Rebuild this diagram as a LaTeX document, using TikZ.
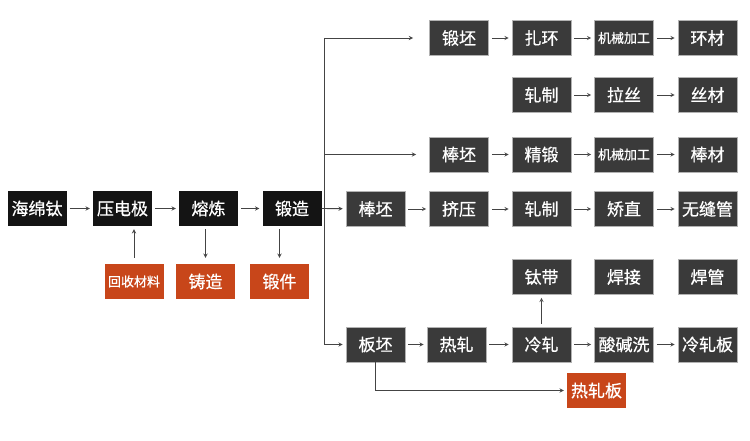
\documentclass[tikz,border=0pt]{standalone}
\usepackage{fontspec}
\newfontfamily\cjk[FakeBold=0.6]{Noto Sans CJK SC}
\usepackage{tikz}
\usetikzlibrary{arrows}
\definecolor{blk}{HTML}{141414}
\definecolor{gry}{HTML}{3A3A3A}
\definecolor{org}{HTML}{C8461A}
\definecolor{lne}{HTML}{444444}
\tikzset{
  box/.style={minimum width=59pt, minimum height=35pt, inner sep=0pt, text=white,
    font=\cjk\fontsize{17}{19}\selectfont},
  bbox/.style={box, fill=blk},
  gbox/.style={box, fill=gry, draw=gray!60, line width=0.6pt},
  obox/.style={box, fill=org},
  sm/.style={font=\cjk\fontsize{13}{15}\selectfont},
  ln/.style={draw=lne, line width=0.9pt},
  arr/.style={ln, ->, >=stealth, shorten <=3pt, shorten >=3pt},
}

\begin{document}
\begin{tikzpicture}[x=1pt, y=-1pt]
\useasboundingbox[fill=white] (0,0) rectangle (750,441);

% left row
\node[bbox] (hmt) at (37,208.5) {海绵钛};
\node[bbox] (ydj) at (122.5,208.5) {压电极};
\node[bbox] (rl) at (208.5,208.5) {熔炼};
\node[bbox] (dz) at (292,208.5) {锻造};
\node[obox,sm] (hscl) at (134,281.5) {回收材料};
\node[obox] (zz) at (205.5,281.5) {铸造};
\node[obox] (dj) at (279.5,281.5) {锻件};

% right block
\node[gbox] (dp) at (459,38) {锻坯};
\node[gbox] (zh) at (541.5,38) {扎环};
\node[gbox,sm] (jx1) at (624,38) {机械加工};
\node[gbox] (hc) at (707.5,38) {环材};

\node[gbox] (zz2) at (541.5,95) {轧制};
\node[gbox] (ls) at (624,95) {拉丝};
\node[gbox] (sc) at (707.5,95) {丝材};

\node[gbox] (bp1) at (459,154.5) {棒坯};
\node[gbox] (jd) at (541.5,154.5) {精锻};
\node[gbox,sm] (jx2) at (624,154.5) {机械加工};
\node[gbox] (bc) at (707.5,154.5) {棒材};

\node[gbox] (bp2) at (375.5,209) {棒坯};
\node[gbox] (jy) at (459,209) {挤压};
\node[gbox] (zz3) at (541.5,209) {轧制};
\node[gbox] (jz) at (624,209) {矫直};
\node[gbox] (wfg) at (707.5,209) {无缝管};

\node[gbox] (td) at (541.5,277) {钛带};
\node[gbox] (hj) at (624,277) {焊接};
\node[gbox] (hg) at (707.5,277) {焊管};

\node[gbox] (bp3) at (375.5,344.5) {板坯};
\node[gbox] (rz) at (456.5,344.5) {热轧};
\node[gbox] (lz) at (541.5,344.5) {冷轧};
\node[gbox] (sjx) at (624,344.5) {酸碱洗};
\node[gbox] (lzb) at (707.5,344.5) {冷轧板};

\node[obox] (hzb) at (596.5,390.5) {热轧板};

% trunk
\coordinate (tA) at (324,38);
\coordinate (t3) at (324,154.5);
\coordinate (tB) at (324,344.5);
\coordinate (e1) at (416,38);
\coordinate (e3) at (419,154.5);
\draw[ln] (tA) -- (tB);
\draw[arr, shorten <=0pt] (tA) -- (e1);
\draw[arr, shorten <=0pt] (t3) -- (e3);
\draw[arr, shorten <=0pt] (dz.east) -- (bp2);
\draw[arr, shorten <=0pt] (tB) -- (bp3);

% arrows
\draw[arr] (hmt) -- (ydj);
\draw[arr] (ydj) -- (rl);
\draw[arr] (rl) -- (dz);
\draw[arr, shorten <=6pt] (hscl.north) -- (hscl.north |- ydj.south);
\draw[arr, shorten >=6pt] (zz.north |- rl.south) -- (zz.north);
\draw[arr, shorten >=6pt] (dj.north |- dz.south) -- (dj.north);

\draw[arr] (dp) -- (zh);
\draw[arr] (zh) -- (jx1);
\draw[arr] (jx1) -- (hc);
\draw[arr] (zz2) -- (ls);
\draw[arr] (ls) -- (sc);
\draw[arr] (bp1) -- (jd);
\draw[arr] (jd) -- (jx2);
\draw[arr] (jx2) -- (bc);
\draw[arr] (bp2) -- (jy);
\draw[arr] (jy) -- (zz3);
\draw[arr] (zz3) -- (jz);
\draw[arr] (jz) -- (wfg);
\draw[arr] (bp3) -- (rz);
\draw[arr] (rz) -- (lz);
\draw[arr] (lz) -- (sjx);
\draw[arr] (sjx) -- (lzb);
\draw[arr] (lz) -- (td);
\draw[arr, shorten <=0pt] (bp3.south) |- (hzb.west);
\end{tikzpicture}
\end{document}
